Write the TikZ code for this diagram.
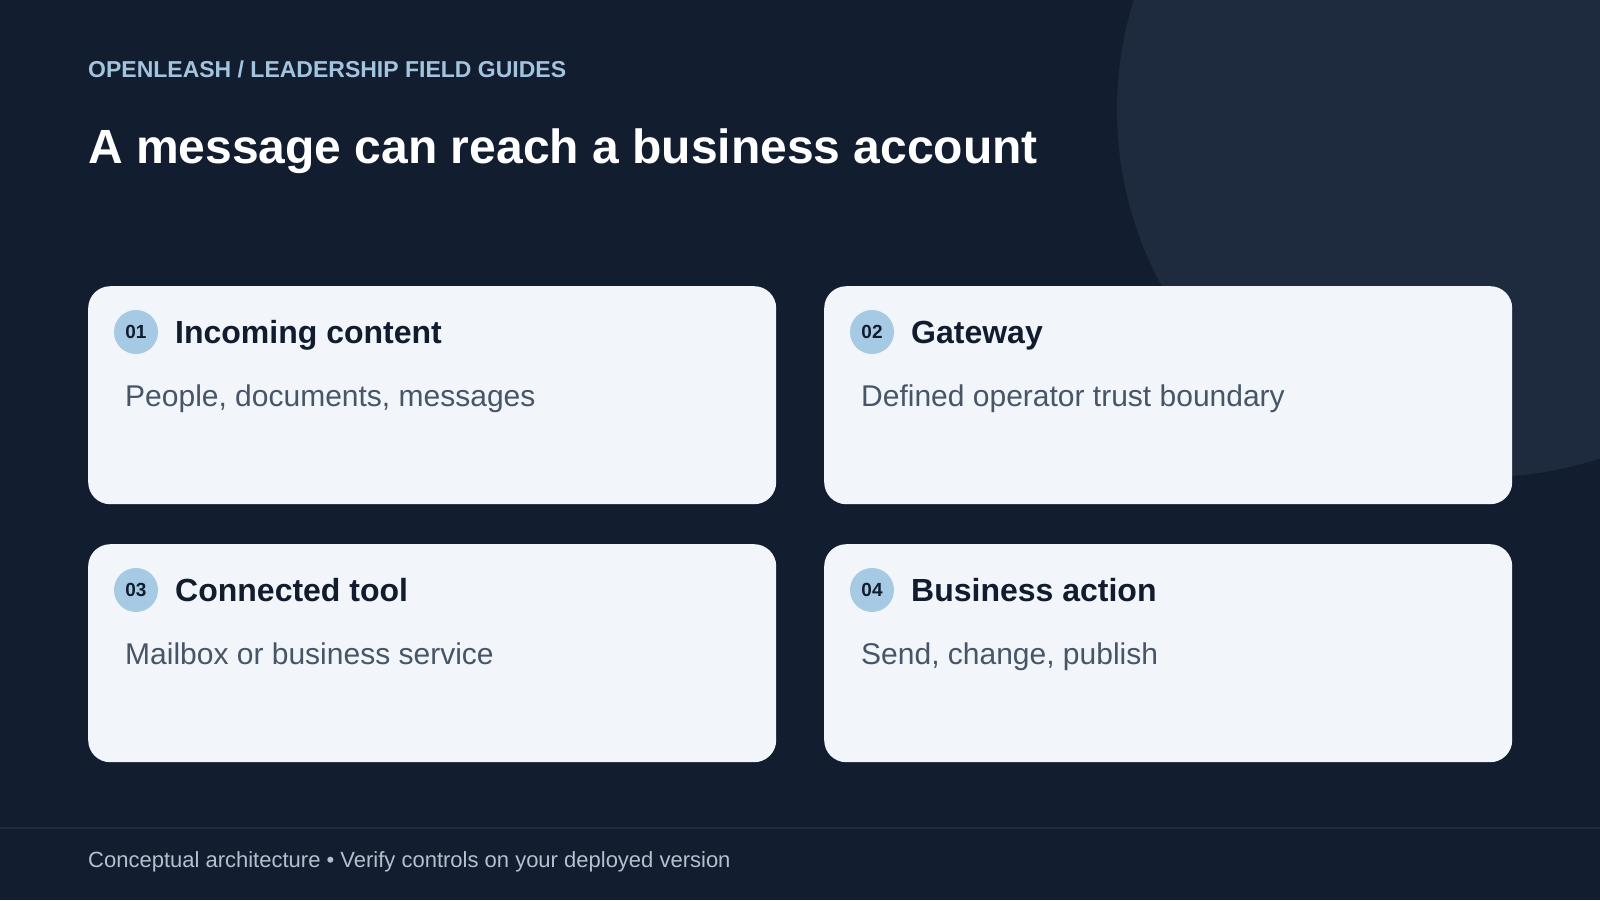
\documentclass[tikz,border=0pt]{standalone}
\usepackage{fontspec}
\setmainfont{Liberation Sans}
\usetikzlibrary{positioning}

\definecolor{bgnavy}{HTML}{121D30}
\definecolor{ringnavy}{HTML}{1E2B3F}
\definecolor{rulenavy}{HTML}{1F2B3E}
\definecolor{cardwhite}{HTML}{F2F5FA}
\definecolor{badgeblue}{HTML}{A6CAE3}
\definecolor{inkdark}{HTML}{111C2F}
\definecolor{slatetext}{HTML}{475569}
\definecolor{kickerblue}{HTML}{A3C4DF}
\definecolor{footgrey}{HTML}{B5C0CF}

\tikzset{
	card/.style={fill=cardwhite, rounded corners=22pt, anchor=north west, inner sep=0pt,
		minimum width=688pt, minimum height=218pt},
	badge/.style={circle, fill=badgeblue, minimum size=44pt, inner sep=0pt, text=inkdark,
		font=\fontsize{19}{22}\selectfont\bfseries},
	heading/.style={anchor=base west, inner sep=0pt, text=inkdark,
		font=\fontsize{32}{38}\selectfont\bfseries},
	body/.style={anchor=base west, inner sep=0pt, text=slatetext,
		font=\fontsize{30}{36}\selectfont},
}

\begin{document}
\begin{tikzpicture}[x=1pt, y=-1pt]

	\useasboundingbox (0,0) rectangle (1600,900);
	\fill [bgnavy] (0,0) rectangle (1600,900);
	\begin{scope}
		\clip (0,0) rectangle (1600,900);
		\fill [ringnavy] (1484,110) circle (367pt);
	\end{scope}

	\node [anchor=base west, inner sep=0pt, text=kickerblue, font=\fontsize{23}{28}\selectfont\bfseries] (kicker) at (88,77.5) {OPENLEASH / LEADERSHIP FIELD GUIDES};
	\node [anchor=base west, inner sep=0pt, text=white, font=\fontsize{48}{58}\selectfont\bfseries] (title) at (88,163) {A message can reach a business account};

	\node [card] (incoming) at (88,286) {};
	\node [badge] (incoming-num) at (136,332) {01};
	\node [heading] (incoming-head) at (175,343) {Incoming content};
	\node [body] (incoming-text) at (125,406) {People, documents, messages};

	\node [card] (gateway) at (824,286) {};
	\node [badge] (gateway-num) at (872,332) {02};
	\node [heading] (gateway-head) at (911,343) {Gateway};
	\node [body] (gateway-text) at (861,406) {Defined operator trust boundary};

	\node [card] (tool) at (88,544) {};
	\node [badge] (tool-num) at (136,590) {03};
	\node [heading] (tool-head) at (175,601) {Connected tool};
	\node [body] (tool-text) at (125,664) {Mailbox or business service};

	\node [card] (action) at (824,544) {};
	\node [badge] (action-num) at (872,590) {04};
	\node [heading] (action-head) at (911,601) {Business action};
	\node [body] (action-text) at (861,664) {Send, change, publish};

	\draw [rulenavy, line width=1.5pt] (0,828) -- (1600,828);
	\node [anchor=base west, inner sep=0pt, text=footgrey, font=\fontsize{22}{26}\selectfont] (footer) at (88,867) {Conceptual architecture • Verify controls on your deployed version};

\end{tikzpicture}
\end{document}
